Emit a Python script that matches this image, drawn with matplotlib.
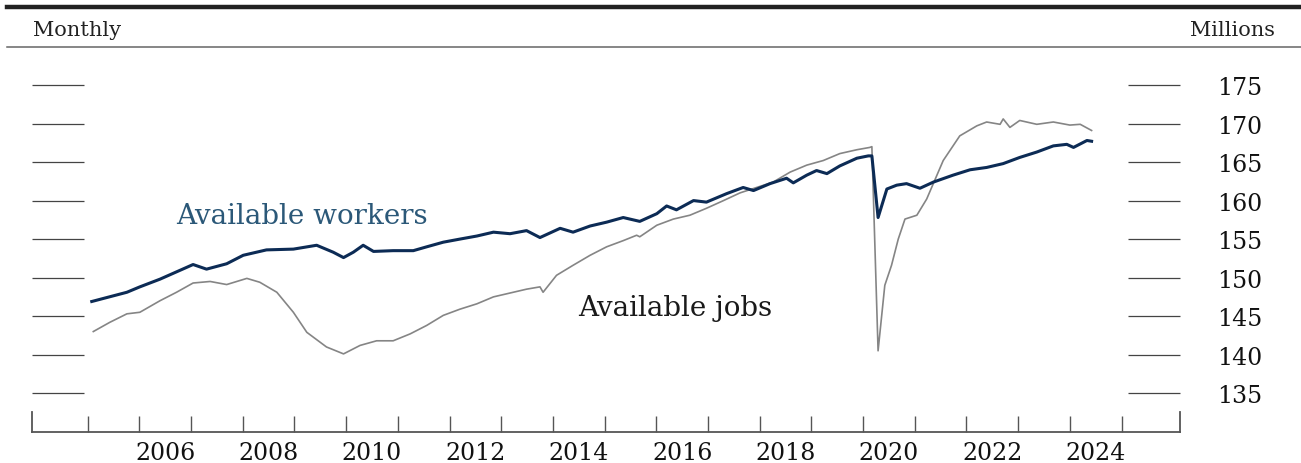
import matplotlib
matplotlib.use("Agg")
import matplotlib.pyplot as plt
from matplotlib.lines import Line2D

# Available workers (labor force), millions
workers_t = [2005.08, 2005.76, 2006.01, 2006.40, 2007.04, 2007.30, 2007.69, 2008.01,
             2008.46, 2008.98, 2009.43, 2009.75, 2009.95, 2010.14, 2010.33, 2010.53,
             2010.91, 2011.30, 2011.56, 2011.88, 2012.20, 2012.53, 2012.85, 2013.17,
             2013.49, 2013.75, 2014.14, 2014.39, 2014.72, 2015.04, 2015.36, 2015.68,
             2016.01, 2016.20, 2016.39, 2016.72, 2016.97, 2017.36, 2017.68, 2017.88,
             2018.20, 2018.52, 2018.65, 2018.91, 2019.10, 2019.30, 2019.55, 2019.88,
             2020.10, 2020.17, 2020.29, 2020.46, 2020.65, 2020.84, 2021.10, 2021.36,
             2021.74, 2022.07, 2022.39, 2022.71, 2023.03, 2023.36, 2023.68, 2023.94,
             2024.07, 2024.33, 2024.42]
workers = [146.9, 148.1, 148.8, 149.8, 151.7, 151.1, 151.8, 152.9,
           153.6, 153.7, 154.2, 153.3, 152.6, 153.3, 154.2, 153.4,
           153.5, 153.5, 154.0, 154.6, 155.0, 155.4, 155.9, 155.7,
           156.1, 155.2, 156.4, 155.9, 156.7, 157.2, 157.8, 157.3,
           158.3, 159.3, 158.8, 160.0, 159.8, 160.9, 161.7, 161.3,
           162.2, 162.9, 162.3, 163.3, 163.9, 163.5, 164.5, 165.5,
           165.8, 165.8, 157.8, 161.5, 162.0, 162.2, 161.6, 162.4,
           163.3, 164.0, 164.3, 164.8, 165.6, 166.3, 167.1, 167.3,
           166.9, 167.8, 167.7]

# Available jobs (employment + openings), millions
jobs_t = [2005.11, 2005.43, 2005.76, 2006.01, 2006.40, 2006.72, 2007.04, 2007.37,
          2007.69, 2008.08, 2008.33, 2008.66, 2008.98, 2009.24, 2009.62, 2009.95,
          2010.27, 2010.59, 2010.91, 2011.24, 2011.56, 2011.88, 2012.20, 2012.53,
          2012.85, 2013.49, 2013.75, 2013.81, 2014.07, 2014.39, 2014.72, 2015.04,
          2015.36, 2015.62, 2015.68, 2016.01, 2016.33, 2016.65, 2016.97, 2017.30,
          2017.62, 2017.94, 2018.26, 2018.59, 2018.91, 2019.23, 2019.55, 2019.88,
          2020.13, 2020.17, 2020.29, 2020.42, 2020.55, 2020.68, 2020.81, 2021.04,
          2021.23, 2021.55, 2021.87, 2022.20, 2022.39, 2022.65, 2022.71, 2022.84,
          2023.03, 2023.36, 2023.68, 2024.00, 2024.20, 2024.42]
jobs = [143.0, 144.2, 145.3, 145.5, 147.0, 148.1, 149.3, 149.5,
        149.1, 149.9, 149.4, 148.1, 145.5, 142.9, 141.0, 140.1,
        141.2, 141.8, 141.8, 142.7, 143.8, 145.1, 145.9, 146.6,
        147.5, 148.5, 148.8, 148.1, 150.3, 151.6, 152.9, 154.0,
        154.8, 155.5, 155.3, 156.8, 157.6, 158.1, 159.0, 160.0,
        161.0, 161.7, 162.4, 163.7, 164.6, 165.2, 166.1, 166.6,
        166.9, 167.0, 140.5, 149.0, 151.6, 155.0, 157.6, 158.1,
        160.2, 165.2, 168.4, 169.7, 170.2, 169.9, 170.6, 169.5,
        170.4, 169.9, 170.2, 169.8, 169.9, 169.1]

year_ticks = list(range(2005, 2026))
year_labels = [str(y) for y in range(2006, 2025, 2)]
label_pos = [y + 0.5 for y in range(2006, 2025, 2)]
y_ticks = [135, 140, 145, 150, 155, 160, 165, 170, 175]

FONT = "DejaVu Serif"
W, H = 1301, 464

fig = plt.figure(figsize=(W / 100, H / 100), dpi=100)
ax = fig.add_axes([32.3 / W, 1 - 432.7 / H, (1180 - 32.3) / W, (432.7 - 47.5) / H])

ax.plot(jobs_t, jobs, color="#858585", lw=1.2, zorder=2)
ax.plot(workers_t, workers, color="#0c2b55", lw=2.2, zorder=3)

ax.set_xlim(2003.93, 2026.13)
ax.set_ylim(130, 180)

# spines: bottom line, short end ticks from left/right spines
for s in ["top"]:
    ax.spines[s].set_visible(False)
for s in ["left", "right", "bottom"]:
    ax.spines[s].set_color("#555555")
    ax.spines[s].set_linewidth(1.3)
ax.spines["left"].set_bounds(130, 132.6)
ax.spines["right"].set_bounds(130, 132.6)

ax.set_xticks(year_ticks)
ax.set_xticklabels([])
ax.set_xticks(label_pos, minor=True)
ax.set_xticklabels(year_labels, minor=True, fontfamily=FONT, fontsize=17)
ax.tick_params(axis="x", which="major", direction="in", length=11.5, width=1.0, color="#555555")
ax.tick_params(axis="x", which="minor", length=0, pad=7, colors="#111111")

ax.set_yticks(y_ticks)
ax.yaxis.set_ticks_position("both")
ax.tick_params(axis="y", direction="in", length=37.5, width=0.9, color="#444444",
               labelleft=False, labelright=True, pad=26.5, labelcolor="#111111")
for lab in ax.get_yticklabels():
    lab.set_fontfamily(FONT)
    lab.set_fontsize(17)

ax.text(2009.14, 158.0, "Available workers", color="#2b5878", fontsize=20,
        fontfamily=FONT, ha="center", va="center")
ax.text(2016.36, 146.1, "Available jobs", color="#1a1a1a", fontsize=20,
        fontfamily=FONT, ha="center", va="center")

# header rules and labels
fig.add_artist(Line2D([7 / W, 1], [1 - 8 / H] * 2, color="#222222", lw=3.2))
fig.add_artist(Line2D([7 / W, 1], [1 - 48 / H] * 2, color="#666666", lw=1.1))
fig.text(33 / W, 1 - 30 / H, "Monthly", fontfamily=FONT, fontsize=15,
         ha="left", va="center", color="#222222")
fig.text(1275 / W, 1 - 30 / H, "Millions", fontfamily=FONT, fontsize=15,
         ha="right", va="center", color="#222222")

fig.savefig("out.png", dpi=100)
